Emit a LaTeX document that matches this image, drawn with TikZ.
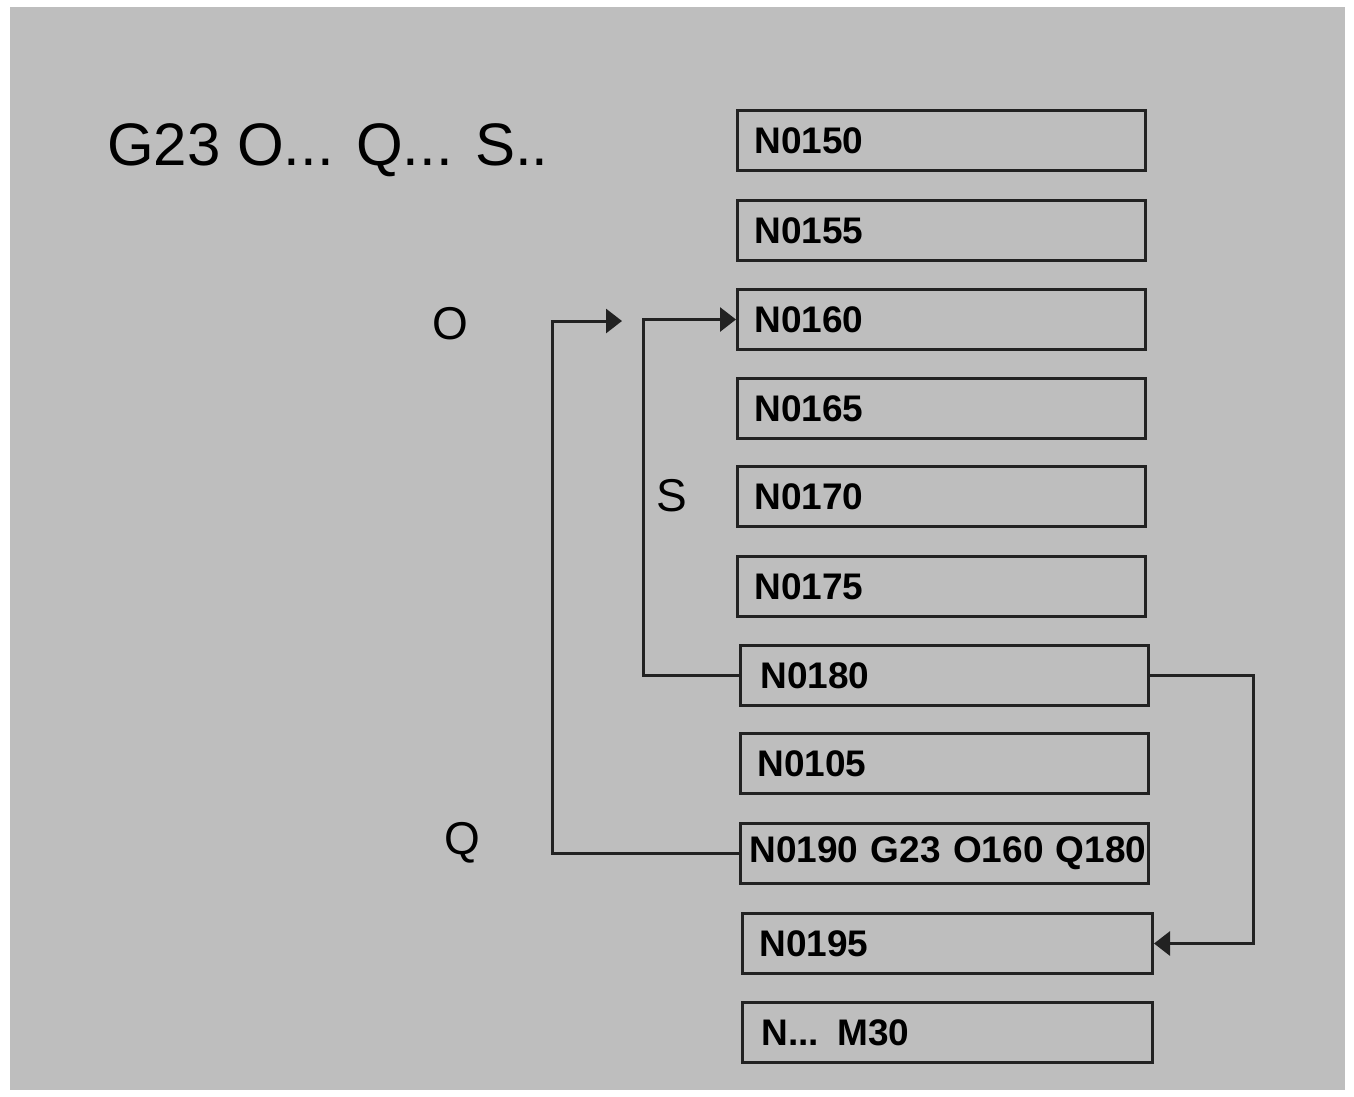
\documentclass[tikz,border=0pt]{standalone}
\usepackage{fontspec}
\setmainfont{Liberation Sans}
\usetikzlibrary{arrows.meta}
\definecolor{bggray}{RGB}{190,190,190}
\definecolor{edge}{RGB}{34,34,34}
\tikzset{
  blk/.style={draw=edge, line width=3pt, anchor=north west, minimum height=60pt,
    text width=#1, inner xsep=17pt, inner ysep=0pt, align=left,
    font=\fontsize{37}{40}\selectfont\bfseries},
  blk/.default=374pt,
  conn/.style={draw=edge, line width=3pt},
  tip/.style={-{Triangle[length=16pt,width=24pt]}},
  lbl/.style={font=\fontsize{46}{50}\selectfont, inner sep=0pt}
}
\begin{document}
\begin{tikzpicture}[x=1pt,y=-1pt]
\useasboundingbox (0,0) rectangle (1354,1096);
\fill[bggray] (10,7) rectangle (1345,1090);
\node[anchor=base west, inner sep=0pt, font=\fontsize{60}{64}\selectfont] (title) at (107,165) {G23 O... Q... S..};
\node[blk] (n150) at (736,109) {N0150};
\node[blk] (n155) at (736,199) {N0155};
\node[blk] (n160) at (736,288) {N0160};
\node[blk] (n165) at (736,377) {N0165};
\node[blk] (n170) at (736,465) {N0170};
\node[blk] (n175) at (736,555) {N0175};
\node[blk, inner xsep=20pt, text width=368pt] (n180) at (739,644) {N0180};
\node[blk] (n185) at (739,732) {N0105};
\node[blk, inner xsep=9pt, text width=390pt] (n190) at (739,822) {\mbox{N0190 G23 O160 Q180}};
\node[blk, text width=376pt] (n195) at (741,912) {N0195};
\node[blk, inner xsep=19pt, text width=372pt] (n200) at (741,1001) {N... M30};
\node[lbl] (lo) at (450,324) {O};
\node[lbl] (ls) at (672,496) {S};
\node[lbl] (lq) at (462,843) {Q};
\coordinate (otip) at (622,321);
\draw[conn, tip] (n180.west) -- ++(-96,0) |- (n160.west);
\draw[conn, tip] (n190.west) -- ++(-187,0) |- (otip);
\draw[conn, tip] (n180.east) -- ++(103,0) |- (n195.east);
\end{tikzpicture}
\end{document}
